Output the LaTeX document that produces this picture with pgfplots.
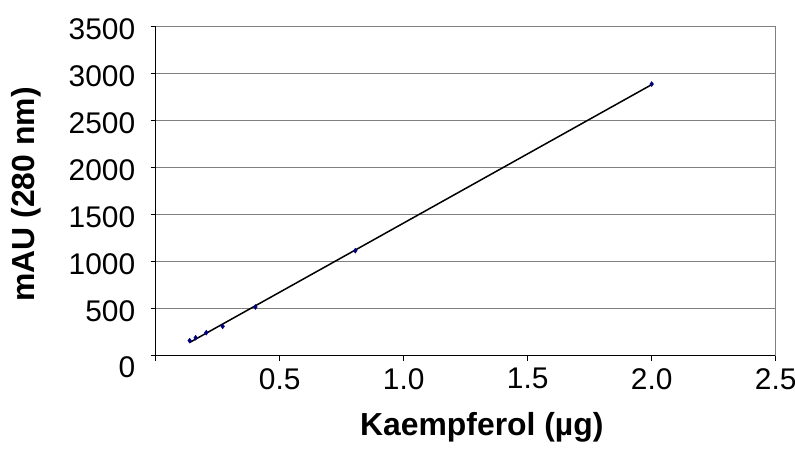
\documentclass[border=0pt]{standalone}
\usepackage{pgfplots}
\pgfplotsset{compat=1.18}
\usepackage{fontspec}
\setmainfont{Liberation Sans}
\definecolor{navymark}{RGB}{0,0,128}
\definecolor{gridgray}{RGB}{128,128,128}
\begin{document}
\begin{tikzpicture}
\path[use as bounding box] (-155.7bp,-93.3bp) rectangle (639.3bp,355.7bp);
\begin{axis}[
  scale only axis, width=620bp, height=329bp,
  xmin=0, xmax=2.5, ymin=0, ymax=3500,
  axis x line*=bottom, axis y line*=left,
  axis line style={black, line width=1bp},
  xtick={0,0.5,1,1.5,2,2.5},
  xticklabels={,0.5,1.0,1.5,2.0,2.5},
  ytick={500,1000,...,3500},
  extra y ticks={0},
  extra y tick style={grid=none, yticklabel style={yshift=-9bp}},
  ymajorgrids, major grid style={gridgray, line width=1bp},
  tick align=outside, major tick length=5bp,
  tick style={black, line width=0.8bp},
  /pgf/number format/assume math mode=true,
  /pgf/number format/set thousands separator={},
  tick label style={font=\fontsize{30}{36}\selectfont},
  yticklabel style={xshift=-12bp, yshift=-3bp},
  xticklabel style={yshift=-4bp},
  xlabel={\bfseries Kaempferol (µg)},
  ylabel={\bfseries mAU (280 nm)},
  label style={font=\fontsize{32}{38}\selectfont},
  xlabel style={at={(axis description cs:0.526,-0.219)}, anchor=center},
  ylabel style={at={(axis description cs:-0.208,0.49)}, anchor=center},
  clip=false,
]
\draw[gridgray, line width=1bp] (rel axis cs:1,0) -- (rel axis cs:1,1);
\addplot[black, line width=1.5bp] coordinates {(0.137,141) (2.0,2884)};
\addplot[only marks, mark=diamond*, mark size=2.5bp, navymark, mark options={fill=navymark}]
  coordinates {(0.137,160) (0.161,191) (0.204,245) (0.270,312) (0.402,518) (0.805,1117) (2.0,2890)};
\end{axis}
\end{tikzpicture}
\end{document}
